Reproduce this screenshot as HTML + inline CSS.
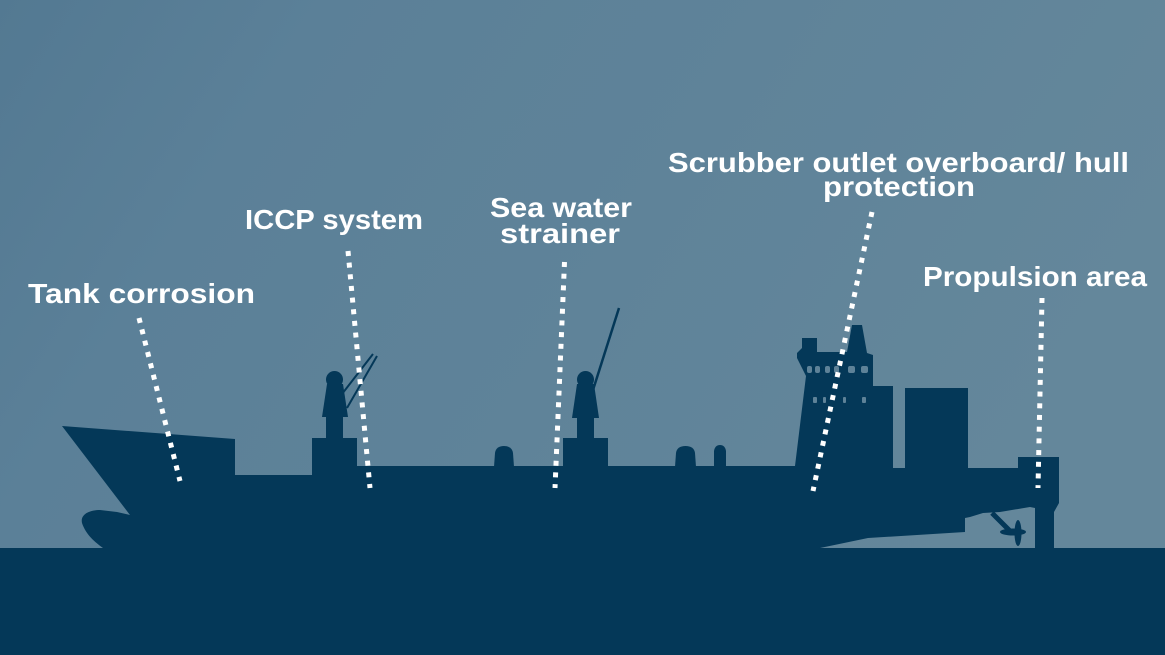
<!DOCTYPE html>
<html>
<head>
<meta charset="utf-8">
<style>
  html, body { margin: 0; padding: 0; }
  body { width: 1165px; height: 655px; overflow: hidden; }
  svg { display: block; }
  text { font-family: "Liberation Sans", "DejaVu Sans", sans-serif; font-weight: bold; fill: #ffffff; font-size: 28px; }
</style>
</head>
<body>
<svg width="1165" height="655" viewBox="0 0 1165 655" xmlns="http://www.w3.org/2000/svg">
  <defs>
    <linearGradient id="bg" x1="0" y1="0" x2="1" y2="0.35">
      <stop offset="0" stop-color="#537992"/>
      <stop offset="0.25" stop-color="#5b8098"/>
      <stop offset="0.6" stop-color="#5f8399"/>
      <stop offset="1" stop-color="#64879b"/>
    </linearGradient>
  </defs>
  <rect x="0" y="0" width="1165" height="655" fill="url(#bg)"/>

  <!-- water -->
  <rect x="0" y="548" width="1165" height="107" fill="#043858"/>

  <!-- ship hull & superstructure -->
  <path fill="#043858" d="
    M62,426 L235,439 L235,475 L312,475 L312,438 L357,438 L357,466 L795,466
    L806,376 L797,358 L797,353 L802,348 L802,338 L817,338 L817,352 L847,352
    L852,325 L862,325 L867,353 L873,355 L873,386 L893,386 L893,468 L905,468
    L905,388 L968,388 L968,468 L1018,468 L1018,457 L1059,457 L1059,503
    L1054,512 L1054,548 L1035,548 L1035,508 L1030,507 L1000,512 L983,513
    L970,517 L965,518 L965,532 L868,538 L820,548 L103,548
    C95,542 86,535 82,523 C80,514 90,510 100,510 L117,512 L130,515 Z"/>

  <!-- domes -->
  <path fill="#043858" d="M494,467 L495,453 Q496,446 504,446 Q512,446 513,453 L514,467 Z"/>
  <path fill="#043858" d="M675,467 L676,453 Q677,446 685.5,446 Q694,446 695,453 L696,467 Z"/>
  <path fill="#043858" d="M714,467 L714,451 Q715,445 720,445 Q725,445 726,451 L726,467 Z"/>

  <!-- crane 1 (ICCP) -->
  <rect x="326" y="414" width="17" height="26" fill="#043858"/>
  <path fill="#043858" d="M327,384 L343,384 L348,417 L322,417 Z"/>
  <circle cx="334.5" cy="379.5" r="8.5" fill="#043858"/>
  <line x1="342" y1="394" x2="373" y2="354" stroke="#043858" stroke-width="2"/>
  <line x1="347" y1="408" x2="377" y2="356" stroke="#043858" stroke-width="2"/>

  <!-- crane 2 (Sea water) -->
  <rect x="563" y="438" width="45" height="30" fill="#043858"/>
  <rect x="577" y="414" width="17" height="26" fill="#043858"/>
  <path fill="#043858" d="M577,384 L594,384 L599,418 L572,418 Z"/>
  <circle cx="585.5" cy="379.5" r="8.5" fill="#043858"/>
  <line x1="593" y1="390" x2="619" y2="308" stroke="#043858" stroke-width="2.5"/>

  <!-- superstructure windows -->
  <g fill="#5e8298">
    <rect x="807" y="366" width="5" height="7" rx="2"/>
    <rect x="815" y="366" width="5" height="7" rx="2"/>
    <rect x="825" y="366" width="5" height="7" rx="2"/>
    <rect x="834" y="366" width="5" height="7" rx="2"/>
    <rect x="848" y="366" width="7" height="7" rx="2"/>
    <rect x="861" y="366" width="7" height="7" rx="2"/>
    <rect x="813" y="397" width="4" height="6" rx="1"/>
    <rect x="823" y="397" width="3" height="6" rx="1"/>
    <rect x="843" y="397" width="3" height="6" rx="1"/>
    <rect x="862" y="397" width="4" height="6" rx="1"/>
  </g>

  <!-- propeller -->
  <line x1="992" y1="513" x2="1010" y2="531" stroke="#043858" stroke-width="5"/>
  <ellipse cx="1018" cy="533" rx="3.5" ry="13" fill="#043858"/>
  <ellipse cx="1013" cy="532" rx="13" ry="3.5" fill="#043858"/>

  <!-- dotted leader lines -->
  <g stroke="#ffffff" stroke-width="5" stroke-dasharray="5 6.7" fill="none">
    <line x1="139" y1="318" x2="180" y2="481"/>
    <line x1="348" y1="251" x2="370" y2="488"/>
    <line x1="564.5" y1="262" x2="555" y2="488"/>
    <line x1="872" y1="212" x2="813" y2="491"/>
    <line x1="1042" y1="298" x2="1038" y2="488"/>
  </g>

  <!-- labels -->
  <text x="28" y="303" textLength="227" lengthAdjust="spacingAndGlyphs">Tank corrosion</text>
  <text x="245" y="229" textLength="178" lengthAdjust="spacingAndGlyphs">ICCP system</text>
  <text x="490" y="217" textLength="142" lengthAdjust="spacingAndGlyphs">Sea water</text>
  <text x="500" y="243" textLength="120" lengthAdjust="spacingAndGlyphs">strainer</text>
  <text x="668" y="172" textLength="461" lengthAdjust="spacingAndGlyphs">Scrubber outlet overboard/ hull</text>
  <text x="823" y="196" textLength="152" lengthAdjust="spacingAndGlyphs">protection</text>
  <text x="923" y="286" textLength="224" lengthAdjust="spacingAndGlyphs">Propulsion area</text>
</svg>
</body>
</html>
